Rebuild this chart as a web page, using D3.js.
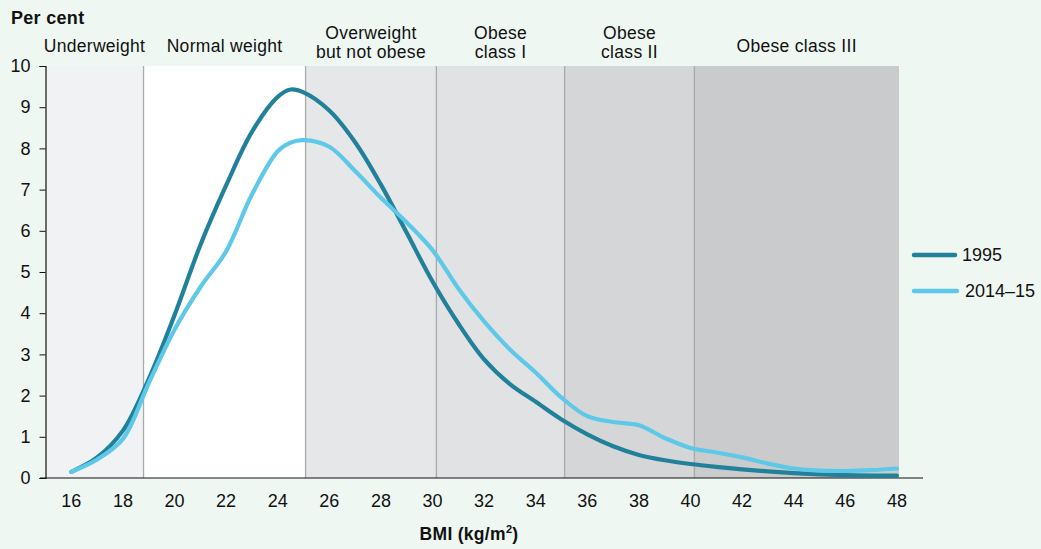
<!DOCTYPE html>
<html>
<head>
<meta charset="utf-8">
<script src="https://cdn.jsdelivr.net/npm/d3@7"></script>
<style>
  body { margin: 0; background: #eff7f2; }
  svg text { font-family: "Liberation Sans", Arial, sans-serif; fill: #111; }
</style>
</head>
<body>
<svg id="chart" width="1041" height="549"></svg>
<script>
// BMI sample points and per cent of adults
const bmi = [16, 17, 18, 19, 20, 21, 22, 23, 24, 24.5, 25, 26, 27, 28, 29, 30, 31, 32, 33, 34, 35, 36, 37, 38, 39, 40, 41, 42, 43, 44, 45, 46, 47, 48];
const pct1995 = [0.15, 0.5, 1.15, 2.4, 3.95, 5.65, 7.1, 8.4, 9.25, 9.43, 9.36, 8.92, 8.15, 7.12, 5.95, 4.77, 3.75, 2.88, 2.28, 1.85, 1.42, 1.06, 0.77, 0.56, 0.43, 0.34, 0.27, 0.21, 0.16, 0.12, 0.09, 0.07, 0.06, 0.06];
const pct2014 = [0.15, 0.45, 0.95, 2.3, 3.6, 4.63, 5.5, 6.88, 7.93, 8.14, 8.2, 8.04, 7.45, 6.8, 6.2, 5.53, 4.6, 3.8, 3.12, 2.56, 1.95, 1.5, 1.36, 1.28, 0.97, 0.73, 0.62, 0.5, 0.35, 0.23, 0.18, 0.17, 0.19, 0.23];

const seriesNames = ["1995", "2014\u201315"];
const seriesColors = ["#21819a", "#5ec8e9"];

// BMI classes (as drawn)
const bandStarts = [15, 18.8, 25.08, 30.15, 35.12, 40.15];
const bandEnds = [18.8, 25.08, 30.15, 35.12, 40.15, 48.08];
const bandLabels = [["Underweight"], ["Normal weight"], ["Overweight", "but not obese"], ["Obese", "class I"], ["Obese", "class II"], ["Obese class III"]];
const bandFills = ["#f1f2f4", "#ffffff", "#e6e7e9", "#e1e2e4", "#d5d6d8", "#cacbcd"];

const xTicks = d3.range(16, 49, 2);
const yTicks = d3.range(0, 11, 1);

const svg = d3.select("#chart");
const x = d3.scaleLinear().domain([15, 48.08]).range([45.5, 899]);
const y = d3.scaleLinear().domain([0, 10]).range([478, 66]);

//bands
svg.selectAll("rect.band")
  .data(bandStarts)
  .enter().append("rect")
  .attr("class", "band")
  .attr("x", (d, i) => x(d))
  .attr("width", (d, i) => x(bandEnds[i]) - x(d))
  .attr("y", y(10))
  .attr("height", y(0) - y(10))
  .attr("fill", (d, i) => bandFills[i]);

//band dividers
svg.selectAll("line.div")
  .data(bandStarts.slice(1))
  .enter().append("line")
  .attr("x1", d => x(d)).attr("x2", d => x(d))
  .attr("y1", y(10)).attr("y2", y(0))
  .attr("stroke", "#a9aaac")
  .attr("stroke-width", 1.3);

//band labels
bandStarts.forEach((s, i) => {
  const cx = (x(s) + x(bandEnds[i])) / 2;
  const lines = bandLabels[i];
  const t = svg.append("text")
    .attr("text-anchor", "middle")
    .style("font-size", "17.5px")
    .style("letter-spacing", "0.3px");
  lines.forEach((l, j) => {
    t.append("tspan")
      .attr("x", cx)
      .attr("y", lines.length === 1 ? 52 : 39 + j * 19)
      .text(l);
  });
});

//axes
const yAxis = svg.append("g")
  .attr("transform", `translate(${x(15)},0)`)
  .call(d3.axisLeft(y).tickValues(yTicks).tickSize(6).tickPadding(9));
yAxis.select(".domain").attr("stroke", "#111").attr("stroke-width", 1.2);
yAxis.selectAll(".tick line").attr("stroke", "#111");
yAxis.selectAll(".tick text").style("font-size", "18px").style("font-family", "Liberation Sans, Arial, sans-serif").attr("fill", "#111");

svg.append("line")
  .attr("x1", 40).attr("x2", 923)
  .attr("y1", y(0)).attr("y2", y(0))
  .attr("stroke", "#111").attr("stroke-width", 1.2);

svg.selectAll("text.xt")
  .data(xTicks)
  .enter().append("text")
  .attr("class", "xt")
  .attr("x", d => x(d))
  .attr("y", 507)
  .attr("text-anchor", "middle")
  .style("font-size", "18px")
  .text(d => d);

svg.append("text")
  .attr("x", 11).attr("y", 24)
  .style("font-size", "18px").style("font-weight", "bold")
  .style("letter-spacing", "0.3px")
  .text("Per cent");

const xl = svg.append("text")
  .attr("x", 469).attr("y", 540)
  .attr("text-anchor", "middle")
  .style("font-size", "17.5px").style("font-weight", "bold")
  .style("letter-spacing", "0.3px");
xl.append("tspan").text("BMI (kg/m");
xl.append("tspan").attr("dy", -7).style("font-size", "11px").text("2");
xl.append("tspan").attr("dy", 7).text(")");

//lines
const line = d3.line()
  .x((d, i) => x(bmi[i]))
  .y(d => y(d))
  .curve(d3.curveCatmullRom.alpha(0.5));

[pct1995, pct2014].forEach((vals, k) => {
  svg.append("path")
    .datum(vals)
    .attr("d", line)
    .attr("fill", "none")
    .attr("stroke", seriesColors[k])
    .attr("stroke-width", 4.2)
    .attr("stroke-linecap", "round");
});

//legend
seriesNames.forEach((n, k) => {
  const ly = 255 + k * 36;
  svg.append("line")
    .attr("x1", 914).attr("x2", 955 + k * 2)
    .attr("y1", ly).attr("y2", ly)
    .attr("stroke", seriesColors[k])
    .attr("stroke-width", 4.5)
    .attr("stroke-linecap", "round");
  svg.append("text")
    .attr("x", 962 + k * 3).attr("y", ly + 6)
    .style("font-size", "18px")
    .text(n);
});
</script>
</body>
</html>
